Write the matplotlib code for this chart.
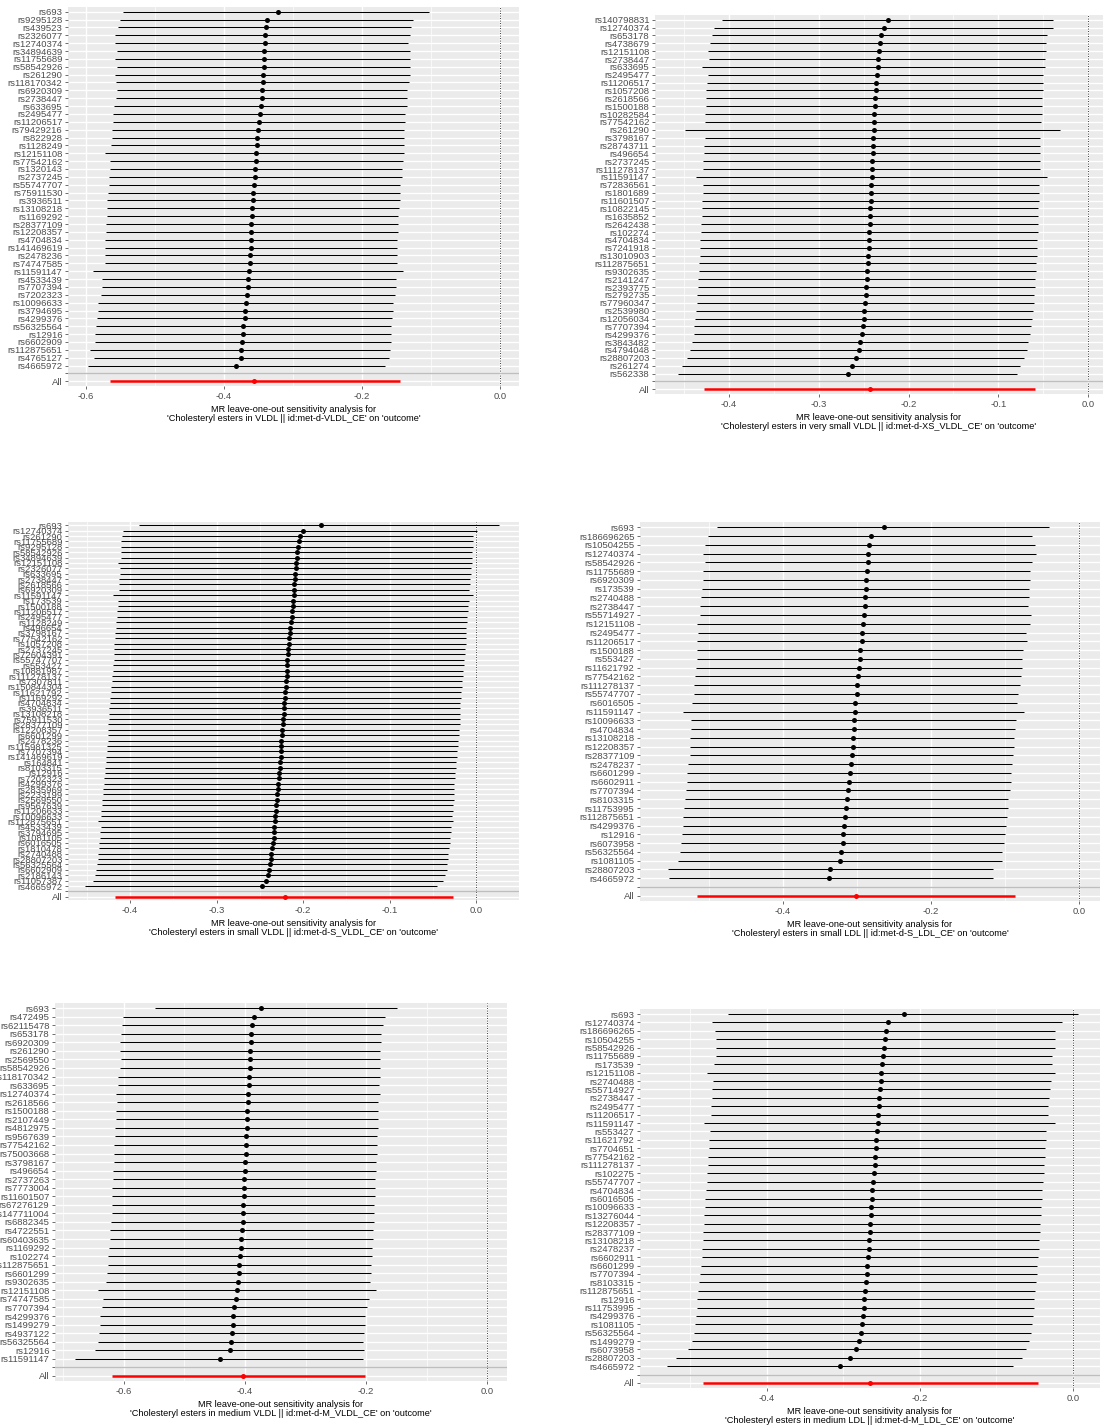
import matplotlib
matplotlib.use("Agg")
import matplotlib.pyplot as plt
from matplotlib.ticker import MultipleLocator

plt.rcParams['font.family'] = ['Liberation Sans', 'DejaVu Sans']

W, H = 1103, 1428

# ── Panel 1: VLDL ─────────────────────────────────────────────────────────────
snp1 = ["rs693", "rs9295128", "rs439523", "rs2326077", "rs12740374", "rs34894639",
        "rs11755689", "rs58542926", "rs261290", "rs118170342", "rs6920309", "rs2738447",
        "rs633695", "rs2495477", "rs11206517", "rs79429216", "rs822928", "rs1128249",
        "rs12151108", "rs77542162", "rs1320143", "rs2737245", "rs55747707", "rs75911530",
        "rs3936511", "rs13108218", "rs1169292", "rs28377109", "rs12208357", "rs4704834",
        "rs141469619", "rs2478236", "rs74747585", "rs11591147", "rs4533439", "rs7707394",
        "rs7202323", "rs10096633", "rs3794695", "rs4299376", "rs56325564", "rs12916",
        "rs6602909", "rs112875651", "rs4765127", "rs4665972"]
b1 = [-0.322, -0.338, -0.339, -0.341, -0.341, -0.342, -0.342, -0.342, -0.343, -0.343,
      -0.345, -0.345, -0.346, -0.348, -0.349, -0.351, -0.352, -0.352, -0.354, -0.354,
      -0.355, -0.355, -0.357, -0.358, -0.358, -0.359, -0.359, -0.361, -0.361, -0.361,
      -0.361, -0.362, -0.362, -0.364, -0.365, -0.365, -0.367, -0.368, -0.370, -0.370,
      -0.372, -0.372, -0.374, -0.375, -0.375, -0.383]
lo1 = [-0.546, -0.551, -0.554, -0.558, -0.558, -0.555, -0.558, -0.555, -0.558, -0.557,
       -0.555, -0.557, -0.559, -0.561, -0.561, -0.562, -0.562, -0.564, -0.572, -0.565,
       -0.565, -0.567, -0.567, -0.568, -0.570, -0.570, -0.570, -0.571, -0.571, -0.572,
       -0.572, -0.572, -0.572, -0.590, -0.577, -0.577, -0.578, -0.583, -0.583, -0.584,
       -0.586, -0.587, -0.587, -0.594, -0.588, -0.597]
hi1 = [-0.103, -0.126, -0.129, -0.130, -0.133, -0.130, -0.130, -0.130, -0.130, -0.132,
       -0.135, -0.135, -0.135, -0.138, -0.138, -0.139, -0.139, -0.139, -0.139, -0.141,
       -0.142, -0.142, -0.145, -0.145, -0.145, -0.146, -0.148, -0.148, -0.148, -0.149,
       -0.149, -0.149, -0.149, -0.141, -0.151, -0.151, -0.152, -0.155, -0.155, -0.157,
       -0.158, -0.158, -0.158, -0.159, -0.161, -0.167]
all1 = (-0.357, -0.565, -0.145)
name1 = "Cholesteryl esters in VLDL || id:met-d-VLDL_CE"

# ── Panel 2: very small VLDL ──────────────────────────────────────────────────
snp2 = ["rs140798831", "rs12740374", "rs653178", "rs4738679", "rs12151108", "rs2738447",
        "rs633695", "rs2495477", "rs11206517", "rs1057208", "rs2618566", "rs1500188",
        "rs10282584", "rs77542162", "rs261290", "rs3798167", "rs28743711", "rs496654",
        "rs2737245", "rs111278137", "rs11591147", "rs72836561", "rs1801689", "rs11601507",
        "rs10822145", "rs1635852", "rs2642438", "rs102274", "rs4704834", "rs7241918",
        "rs13010903", "rs112875651", "rs9302635", "rs2141247", "rs2393775", "rs2792735",
        "rs77960347", "rs2539980", "rs12056034", "rs7707394", "rs4299376", "rs3843482",
        "rs4794048", "rs28807203", "rs261274", "rs562338"]
b2 = [-0.223, -0.227, -0.231, -0.232, -0.233, -0.234, -0.234, -0.235, -0.236, -0.236,
      -0.237, -0.237, -0.238, -0.238, -0.238, -0.240, -0.240, -0.240, -0.241, -0.241,
      -0.241, -0.242, -0.242, -0.242, -0.243, -0.243, -0.243, -0.244, -0.244, -0.244,
      -0.245, -0.245, -0.246, -0.246, -0.247, -0.247, -0.248, -0.250, -0.250, -0.251,
      -0.252, -0.254, -0.255, -0.258, -0.263, -0.267]
lo2 = [-0.408, -0.417, -0.419, -0.421, -0.423, -0.422, -0.430, -0.423, -0.425, -0.426,
       -0.426, -0.426, -0.427, -0.427, -0.449, -0.427, -0.428, -0.428, -0.429, -0.429,
       -0.437, -0.429, -0.429, -0.430, -0.430, -0.430, -0.431, -0.431, -0.432, -0.432,
       -0.432, -0.433, -0.433, -0.435, -0.435, -0.436, -0.436, -0.437, -0.438, -0.439,
       -0.439, -0.441, -0.443, -0.447, -0.452, -0.457]
hi2 = [-0.039, -0.039, -0.046, -0.047, -0.047, -0.048, -0.048, -0.050, -0.050, -0.050,
       -0.051, -0.051, -0.051, -0.052, -0.031, -0.053, -0.053, -0.053, -0.053, -0.053,
       -0.046, -0.055, -0.055, -0.055, -0.056, -0.056, -0.056, -0.056, -0.057, -0.057,
       -0.057, -0.058, -0.058, -0.059, -0.059, -0.060, -0.060, -0.061, -0.062, -0.064,
       -0.065, -0.067, -0.068, -0.071, -0.076, -0.079]
all2 = (-0.243, -0.428, -0.059)
name2 = "Cholesteryl esters in very small VLDL || id:met-d-XS_VLDL_CE"

# ── Panel 3: small VLDL ───────────────────────────────────────────────────────
snp3 = ["rs693", "rs12740374", "rs261290", "rs11755689", "rs9295128", "rs58542926",
        "rs34894639", "rs12151108", "rs2326077", "rs633695", "rs2738447", "rs2618566",
        "rs6920309", "rs11591147", "rs173539", "rs1500188", "rs11206517", "rs2495477",
        "rs1128249", "rs496654", "rs3798167", "rs77542162", "rs1057208", "rs2737245",
        "rs72604391", "rs55747707", "rs553427", "rs10881987", "rs111278137", "rs7307811",
        "rs150844304", "rs11621792", "rs1169292", "rs4704834", "rs3936511", "rs13108218",
        "rs75911530", "rs28377109", "rs12208357", "rs6601299", "rs2478236", "rs115981325",
        "rs7707394", "rs141469619", "rs164841", "rs8103315", "rs12916", "rs7202323",
        "rs4299376", "rs2835969", "rs2233199", "rs2569550", "rs9567639", "rs11206633",
        "rs10096633", "rs112875651", "rs4533439", "rs3794695", "rs1081105", "rs6016505",
        "rs1810478", "rs2740488", "rs28807203", "rs56325564", "rs6602909", "rs2186143",
        "rs11057387", "rs4665972"]
b3 = [-0.179, -0.200, -0.203, -0.205, -0.206, -0.207, -0.207, -0.208, -0.208, -0.209,
      -0.209, -0.210, -0.210, -0.211, -0.212, -0.212, -0.213, -0.213, -0.214, -0.215,
      -0.215, -0.216, -0.216, -0.217, -0.217, -0.218, -0.218, -0.219, -0.219, -0.220,
      -0.220, -0.221, -0.221, -0.222, -0.222, -0.222, -0.223, -0.223, -0.224, -0.224,
      -0.225, -0.225, -0.226, -0.226, -0.227, -0.227, -0.228, -0.228, -0.229, -0.229,
      -0.230, -0.230, -0.231, -0.231, -0.232, -0.232, -0.233, -0.233, -0.234, -0.235,
      -0.236, -0.237, -0.237, -0.238, -0.239, -0.241, -0.243, -0.247]
lo3 = [-0.390, -0.408, -0.409, -0.410, -0.410, -0.411, -0.411, -0.414, -0.412, -0.412,
       -0.413, -0.413, -0.413, -0.420, -0.414, -0.414, -0.415, -0.415, -0.416, -0.416,
       -0.417, -0.417, -0.418, -0.418, -0.419, -0.419, -0.420, -0.420, -0.421, -0.421,
       -0.422, -0.422, -0.423, -0.423, -0.424, -0.424, -0.424, -0.425, -0.425, -0.426,
       -0.426, -0.427, -0.427, -0.428, -0.428, -0.429, -0.429, -0.430, -0.430, -0.431,
       -0.431, -0.432, -0.432, -0.433, -0.433, -0.437, -0.434, -0.435, -0.435, -0.436,
       -0.436, -0.437, -0.437, -0.438, -0.439, -0.440, -0.443, -0.452]
hi3 = [0.027, 0.001, -0.003, -0.004, -0.004, -0.005, -0.005, -0.005, -0.006, -0.006,
       -0.007, -0.007, -0.008, -0.004, -0.008, -0.009, -0.009, -0.010, -0.010, -0.011,
       -0.011, -0.012, -0.012, -0.013, -0.013, -0.014, -0.014, -0.015, -0.015, -0.016,
       -0.016, -0.017, -0.017, -0.018, -0.018, -0.018, -0.019, -0.019, -0.020, -0.020,
       -0.021, -0.021, -0.022, -0.022, -0.023, -0.023, -0.024, -0.024, -0.025, -0.025,
       -0.026, -0.026, -0.027, -0.027, -0.028, -0.027, -0.029, -0.029, -0.030, -0.030,
       -0.031, -0.032, -0.032, -0.033, -0.034, -0.036, -0.038, -0.045]
all3 = (-0.221, -0.417, -0.027)
name3 = "Cholesteryl esters in small VLDL || id:met-d-S_VLDL_CE"

# ── Panel 4: small LDL ────────────────────────────────────────────────────────
snp4 = ["rs693", "rs186696265", "rs10504255", "rs12740374", "rs58542926", "rs11755689",
        "rs6920309", "rs173539", "rs2740488", "rs2738447", "rs55714927", "rs12151108",
        "rs2495477", "rs11206517", "rs1500188", "rs553427", "rs11621792", "rs77542162",
        "rs111278137", "rs55747707", "rs6016505", "rs11591147", "rs10096633", "rs4704834",
        "rs13108218", "rs12208357", "rs28377109", "rs2478237", "rs6601299", "rs6602911",
        "rs7707394", "rs8103315", "rs11753995", "rs112875651", "rs4299376", "rs12916",
        "rs6073958", "rs56325564", "rs1081105", "rs28807203", "rs4665972"]
b4 = [-0.264, -0.281, -0.284, -0.285, -0.285, -0.286, -0.288, -0.288, -0.289, -0.289,
      -0.291, -0.292, -0.293, -0.293, -0.296, -0.296, -0.297, -0.299, -0.300, -0.300,
      -0.303, -0.303, -0.304, -0.304, -0.305, -0.305, -0.307, -0.308, -0.309, -0.311,
      -0.312, -0.314, -0.315, -0.316, -0.318, -0.319, -0.319, -0.322, -0.323, -0.336,
      -0.338]
lo4 = [-0.489, -0.501, -0.505, -0.508, -0.505, -0.508, -0.508, -0.509, -0.511, -0.512,
       -0.512, -0.516, -0.515, -0.516, -0.516, -0.516, -0.518, -0.519, -0.520, -0.520,
       -0.523, -0.535, -0.524, -0.524, -0.526, -0.526, -0.526, -0.528, -0.530, -0.530,
       -0.531, -0.532, -0.534, -0.535, -0.535, -0.536, -0.538, -0.539, -0.541, -0.555,
       -0.554]
hi4 = [-0.041, -0.064, -0.059, -0.058, -0.064, -0.066, -0.066, -0.068, -0.068, -0.069,
       -0.065, -0.066, -0.072, -0.070, -0.076, -0.077, -0.077, -0.078, -0.080, -0.082,
       -0.084, -0.074, -0.085, -0.086, -0.088, -0.088, -0.089, -0.091, -0.092, -0.092,
       -0.093, -0.096, -0.096, -0.097, -0.099, -0.100, -0.101, -0.104, -0.104, -0.116,
       -0.116]
all4 = (-0.301, -0.516, -0.086)
name4 = "Cholesteryl esters in small LDL || id:met-d-S_LDL_CE"

# ── Panel 5: medium VLDL ──────────────────────────────────────────────────────
snp5 = ["rs693", "rs472495", "rs62115478", "rs653178", "rs6920309", "rs261290",
        "rs2569550", "rs58542926", "rs118170342", "rs633695", "rs12740374", "rs2618566",
        "rs1500188", "rs2107449", "rs4812975", "rs9567639", "rs77542162", "rs75003668",
        "rs3798167", "rs496654", "rs2737263", "rs7773004", "rs11601507", "rs67276129",
        "rs147711004", "rs6882345", "rs4722551", "rs60403635", "rs1169292", "rs102274",
        "rs112875651", "rs6601299", "rs9302635", "rs12151108", "rs74747585", "rs7707394",
        "rs4299376", "rs1499279", "rs4937122", "rs56325564", "rs12916", "rs11591147"]
b5 = [-0.374, -0.385, -0.388, -0.390, -0.390, -0.392, -0.392, -0.392, -0.393, -0.393,
      -0.395, -0.395, -0.397, -0.397, -0.397, -0.398, -0.398, -0.398, -0.400, -0.400,
      -0.402, -0.402, -0.402, -0.403, -0.403, -0.403, -0.405, -0.407, -0.407, -0.408,
      -0.410, -0.410, -0.412, -0.413, -0.415, -0.418, -0.420, -0.420, -0.421, -0.423,
      -0.425, -0.441]
lo5 = [-0.549, -0.602, -0.603, -0.605, -0.607, -0.607, -0.605, -0.607, -0.610, -0.610,
       -0.613, -0.612, -0.613, -0.613, -0.615, -0.615, -0.617, -0.617, -0.617, -0.618,
       -0.618, -0.620, -0.620, -0.620, -0.620, -0.621, -0.623, -0.623, -0.625, -0.626,
       -0.626, -0.628, -0.630, -0.643, -0.635, -0.636, -0.640, -0.640, -0.641, -0.643,
       -0.648, -0.681]
hi5 = [-0.149, -0.169, -0.172, -0.175, -0.175, -0.177, -0.177, -0.177, -0.177, -0.179,
       -0.177, -0.180, -0.180, -0.180, -0.180, -0.182, -0.182, -0.182, -0.183, -0.183,
       -0.185, -0.185, -0.185, -0.187, -0.187, -0.187, -0.188, -0.188, -0.190, -0.190,
       -0.192, -0.192, -0.193, -0.183, -0.195, -0.198, -0.202, -0.202, -0.203, -0.205,
       -0.203, -0.205]
all5 = (-0.403, -0.620, -0.202)
name5 = "Cholesteryl esters in medium VLDL || id:met-d-M_VLDL_CE"

# ── Panel 6: medium LDL ───────────────────────────────────────────────────────
snp6 = ["rs693", "rs12740374", "rs186696265", "rs10504255", "rs58542926", "rs11755689",
        "rs173539", "rs12151108", "rs2740488", "rs55714927", "rs2738447", "rs2495477",
        "rs11206517", "rs11591147", "rs553427", "rs11621792", "rs7704651", "rs77542162",
        "rs111278137", "rs102275", "rs55747707", "rs4704834", "rs6016505", "rs10096633",
        "rs13276044", "rs12208357", "rs28377109", "rs13108218", "rs2478237", "rs6602911",
        "rs6601299", "rs7707394", "rs8103315", "rs112875651", "rs12916", "rs11753995",
        "rs4299376", "rs1081105", "rs56325564", "rs1499279", "rs6073958", "rs28807203",
        "rs4665972"]
b6 = [-0.221, -0.242, -0.244, -0.246, -0.247, -0.248, -0.250, -0.251, -0.251, -0.252,
      -0.254, -0.254, -0.255, -0.255, -0.256, -0.258, -0.258, -0.259, -0.259, -0.260,
      -0.261, -0.263, -0.263, -0.264, -0.264, -0.265, -0.265, -0.267, -0.267, -0.268,
      -0.269, -0.269, -0.271, -0.272, -0.273, -0.273, -0.275, -0.276, -0.277, -0.280,
      -0.284, -0.292, -0.305]
lo6 = [-0.451, -0.472, -0.468, -0.467, -0.467, -0.467, -0.469, -0.478, -0.471, -0.472,
       -0.472, -0.473, -0.473, -0.482, -0.475, -0.476, -0.476, -0.477, -0.477, -0.478,
       -0.478, -0.480, -0.481, -0.481, -0.482, -0.482, -0.484, -0.484, -0.485, -0.485,
       -0.486, -0.488, -0.489, -0.490, -0.492, -0.492, -0.493, -0.494, -0.495, -0.498,
       -0.503, -0.519, -0.531]
hi6 = [0.007, -0.014, -0.024, -0.024, -0.024, -0.027, -0.027, -0.024, -0.029, -0.030,
       -0.031, -0.033, -0.033, -0.024, -0.035, -0.035, -0.037, -0.037, -0.038, -0.038,
       -0.039, -0.041, -0.041, -0.042, -0.042, -0.043, -0.043, -0.044, -0.044, -0.046,
       -0.047, -0.047, -0.048, -0.050, -0.051, -0.051, -0.052, -0.054, -0.055, -0.058,
       -0.061, -0.067, -0.078]
all6 = (-0.265, -0.484, -0.046)
name6 = "Cholesteryl esters in medium LDL || id:met-d-M_LDL_CE"

TXT = "#4D4D4D"
FS = 6.8


def draw_panel(box, snps, b, lo, hi, allv, xlim, step, name):
    left, top, right, bottom = box
    ax = fig.add_axes([left / W, 1 - bottom / H, (right - left) / W, (bottom - top) / H])
    ax.set_facecolor("#EBEBEB")
    n = len(snps)
    # levels: All=1, blank=2, SNPs from n+2 (top) down to 3
    ys = [n + 2 - i for i in range(n)]
    ax.set_ylim(0.4, n + 2.6)
    ax.set_xlim(*xlim)
    ax.xaxis.set_major_locator(MultipleLocator(step))
    ax.xaxis.set_minor_locator(MultipleLocator(step / 2))
    ax.grid(True, which="major", color="white", lw=1.0)
    ax.grid(True, which="minor", axis="x", color="white", lw=0.5)
    ax.set_axisbelow(True)
    for s in ax.spines.values():
        s.set_visible(False)
    ax.axvline(0, color="black", ls=(0, (1, 2)), lw=0.6, zorder=2)
    ax.hlines(ys, lo, hi, color="black", lw=0.75, zorder=3)
    ax.scatter(b, ys, s=13, color="black", zorder=4, linewidths=0)
    ax.hlines([1], [allv[1]], [allv[2]], color="red", lw=1.8, zorder=3)
    ax.scatter([allv[0]], [1], s=13, color="red", zorder=4, linewidths=0)
    ax.axhline(2, color="#BEBEBE", lw=1.0, zorder=2)
    ax.set_yticks([1, 2] + ys)
    ax.set_yticklabels(["All", ""] + snps)
    ax.tick_params(axis="both", which="major", length=2.5, width=0.5, color="#333333",
                   labelsize=FS, labelcolor=TXT, pad=1.5)
    ax.tick_params(axis="x", which="minor", length=0)
    xt = ax.get_xticks()
    ax.set_xticklabels([f"{v:.1f}" if abs(v) > 1e-9 else "0.0" for v in xt])
    ax.set_xlabel("MR leave-one-out sensitivity analysis for\n'" + name + "' on 'outcome'",
                  fontsize=6.6, color="black", labelpad=3, linespacing=1.0)
    return ax


fig = plt.figure(figsize=(W / 100, H / 100), dpi=100)

draw_panel((68, 7, 519, 386), snp1, b1, lo1, hi1, all1, (-0.626, 0.0275), 0.2, name1)
draw_panel((655, 15, 1103, 394), snp2, b2, lo2, hi2, all2, (-0.4825, 0.0167), 0.1, name2)
draw_panel((68, 522, 519, 900), snp3, b3, lo3, hi3, all3, (-0.4717, 0.0497), 0.1, name3)
draw_panel((640, 522, 1100, 901), snp4, b4, lo4, hi4, all4, (-0.593, 0.0284), 0.2, name4)
draw_panel((55, 1003, 507, 1381), snp5, b5, lo5, hi5, all5, (-0.714, 0.033), 0.2, name5)
draw_panel((640, 1009, 1100, 1388), snp6, b6, lo6, hi6, all6, (-0.566, 0.0353), 0.2, name6)

fig.savefig("out.png", dpi=100, facecolor="white")
